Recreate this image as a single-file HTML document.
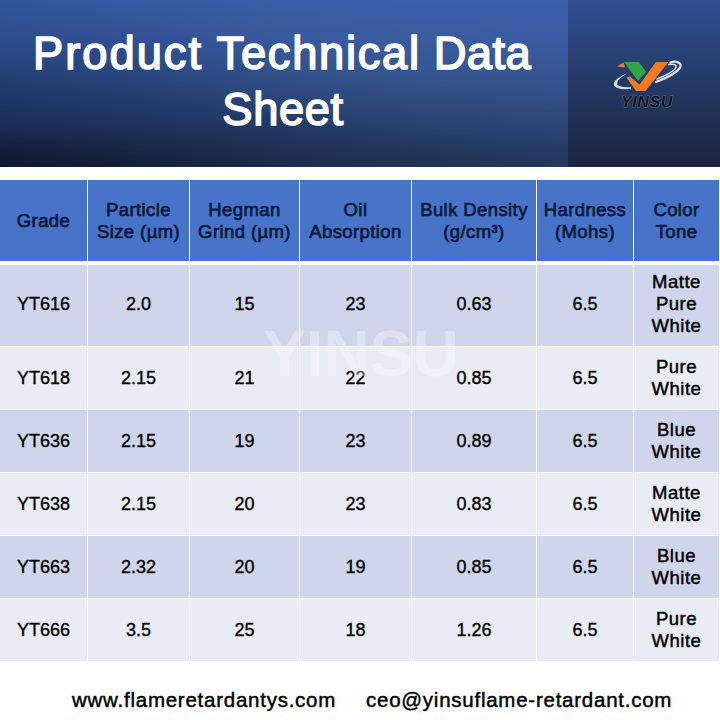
<!DOCTYPE html>
<html><head><meta charset="utf-8">
<style>
html,body{margin:0;padding:0;width:720px;height:720px;overflow:hidden;background:#fff;}
body{position:relative;font-family:"Liberation Sans",sans-serif;}
.abs{position:absolute;}
#bl{left:0;top:0;width:568px;height:167px;}
#bl i{position:absolute;top:0;height:167px;}
#rp{left:568px;top:0;width:152px;height:167px;background:linear-gradient(to bottom,#2E4F90 0px,#243A65 84px,#1A243E 167px);}
.title{left:0;width:566px;color:#fff;font-weight:normal;font-size:45.3px;-webkit-text-stroke:1.6px #fff;letter-spacing:1.7px;text-align:center;white-space:nowrap;line-height:56px;}
.c{position:absolute;display:flex;align-items:center;justify-content:center;text-align:center;}
.h{background:#4774C9;color:#0D1A3C;font-weight:normal;font-size:18.5px;line-height:22px;-webkit-text-stroke:0.7px #0D1A3C;letter-spacing:0.4px;}
.b1{background:#CFD5EA;}
.b2{background:#E9EBF5;}
.t{color:#000;font-size:18px;line-height:22px;-webkit-text-stroke:0.35px #000;}
.r1{box-sizing:border-box;padding-bottom:3px;}
.ct{font-size:18.5px;-webkit-text-stroke:0.45px #000;letter-spacing:0.5px;}
.foot{top:688px;color:#000;font-size:20.5px;letter-spacing:0.75px;-webkit-text-stroke:0.45px #000;white-space:nowrap;line-height:24px;}
.wm{left:263px;top:322px;color:rgba(255,255,255,0.32);font-weight:bold;font-size:64px;line-height:64px;white-space:nowrap;}
</style></head><body>
<div id="bl" class="abs"><i style="left:0px;width:8px;background:linear-gradient(#2F559B 0px,#2C4D8C 40px,#223F70 80px,#1C2D56 124px,#111B35 155px,#0F1830 167px)"></i><i style="left:8px;width:8px;background:linear-gradient(#30569B 0px,#2C4D8D 40px,#223F71 80px,#1C2D57 124px,#111C36 155px,#0F1931 167px)"></i><i style="left:16px;width:8px;background:linear-gradient(#30569C 0px,#2D4D8D 40px,#234072 80px,#1C2E57 124px,#111C36 155px,#0F1932 167px)"></i><i style="left:24px;width:8px;background:linear-gradient(#30569C 0px,#2D4D8D 40px,#234072 80px,#1D2E57 124px,#121D37 155px,#101A32 167px)"></i><i style="left:32px;width:8px;background:linear-gradient(#31579C 0px,#2D4E8E 40px,#234073 80px,#1D2E58 124px,#121D37 155px,#101A33 167px)"></i><i style="left:40px;width:8px;background:linear-gradient(#31579D 0px,#2E4E8E 40px,#244074 80px,#1D2F58 124px,#121E38 155px,#101B34 167px)"></i><i style="left:48px;width:8px;background:linear-gradient(#32589D 0px,#2E4E8F 40px,#244174 80px,#1D2F59 124px,#121E38 155px,#101B34 167px)"></i><i style="left:56px;width:8px;background:linear-gradient(#32589D 0px,#2E4E8F 40px,#244175 80px,#1D2F59 124px,#121F39 155px,#101C35 167px)"></i><i style="left:64px;width:8px;background:linear-gradient(#32589E 0px,#2F4E8F 40px,#254175 80px,#1E3059 124px,#131F39 155px,#111C35 167px)"></i><i style="left:72px;width:8px;background:linear-gradient(#33599E 0px,#2F4E90 40px,#254176 80px,#1E305A 124px,#13203A 155px,#111D36 167px)"></i><i style="left:80px;width:8px;background:linear-gradient(#33599E 0px,#2F4E90 40px,#254277 80px,#1E305A 124px,#13203A 155px,#111D37 167px)"></i><i style="left:88px;width:8px;background:linear-gradient(#33599F 0px,#304E90 40px,#264277 80px,#1E315A 124px,#13213B 155px,#111E37 167px)"></i><i style="left:96px;width:8px;background:linear-gradient(#345A9F 0px,#304F91 40px,#264278 80px,#1E315B 124px,#13213B 155px,#111E38 167px)"></i><i style="left:104px;width:8px;background:linear-gradient(#345A9F 0px,#304F91 40px,#264279 80px,#1F315B 124px,#14223C 155px,#121F39 167px)"></i><i style="left:112px;width:8px;background:linear-gradient(#355BA0 0px,#314F92 40px,#274379 80px,#1F325C 124px,#14223C 155px,#121F39 167px)"></i><i style="left:120px;width:8px;background:linear-gradient(#355BA0 0px,#314F92 40px,#27437A 80px,#1F325C 124px,#14233D 155px,#12203A 167px)"></i><i style="left:128px;width:8px;background:linear-gradient(#355BA0 0px,#315092 40px,#27447B 80px,#1F325C 124px,#15243E 155px,#12213B 167px)"></i><i style="left:136px;width:8px;background:linear-gradient(#365BA1 0px,#325093 40px,#28447B 80px,#20335D 124px,#15243F 155px,#13213C 167px)"></i><i style="left:144px;width:8px;background:linear-gradient(#365CA1 0px,#325193 40px,#28457C 80px,#20335E 124px,#162540 155px,#14223D 167px)"></i><i style="left:152px;width:8px;background:linear-gradient(#365CA1 0px,#325194 40px,#29457C 80px,#20345E 124px,#162541 155px,#14223D 167px)"></i><i style="left:160px;width:8px;background:linear-gradient(#365CA2 0px,#335294 40px,#29467D 80px,#20345E 124px,#172642 155px,#14233E 167px)"></i><i style="left:168px;width:8px;background:linear-gradient(#375CA2 0px,#335295 40px,#29477E 80px,#20345F 124px,#172643 155px,#15233F 167px)"></i><i style="left:176px;width:8px;background:linear-gradient(#375CA2 0px,#335395 40px,#2A477E 80px,#213560 124px,#182744 155px,#162440 167px)"></i><i style="left:184px;width:8px;background:linear-gradient(#375DA2 0px,#345396 40px,#2A487F 80px,#213560 124px,#182745 155px,#162441 167px)"></i><i style="left:192px;width:8px;background:linear-gradient(#385DA3 0px,#345496 40px,#2B487F 80px,#213660 124px,#192846 155px,#162542 167px)"></i><i style="left:200px;width:8px;background:linear-gradient(#385DA3 0px,#345496 40px,#2B4980 80px,#223661 124px,#1A2846 155px,#172642 167px)"></i><i style="left:208px;width:8px;background:linear-gradient(#385DA3 0px,#355597 40px,#2B4A81 80px,#223662 124px,#1A2947 155px,#182643 167px)"></i><i style="left:216px;width:8px;background:linear-gradient(#395DA4 0px,#355697 40px,#2C4A81 80px,#223762 124px,#1B2A48 155px,#182744 167px)"></i><i style="left:224px;width:8px;background:linear-gradient(#395EA4 0px,#365698 40px,#2C4B82 80px,#223762 124px,#1B2A49 155px,#182745 167px)"></i><i style="left:232px;width:8px;background:linear-gradient(#395EA4 0px,#365798 40px,#2D4B82 80px,#223863 124px,#1C2B4A 155px,#192846 167px)"></i><i style="left:240px;width:8px;background:linear-gradient(#3A5EA4 0px,#365799 40px,#2D4C83 80px,#233864 124px,#1C2B4B 155px,#1A2847 167px)"></i><i style="left:248px;width:8px;background:linear-gradient(#3A5EA5 0px,#375899 40px,#2D4D84 80px,#233864 124px,#1D2C4C 155px,#1A2948 167px)"></i><i style="left:256px;width:8px;background:linear-gradient(#3A5EA5 0px,#37589A 40px,#2E4D84 80px,#233964 124px,#1D2C4D 155px,#1A2948 167px)"></i><i style="left:264px;width:8px;background:linear-gradient(#3A5FA5 0px,#37599A 40px,#2E4E85 80px,#243965 124px,#1E2D4E 155px,#1B2A49 167px)"></i><i style="left:272px;width:8px;background:linear-gradient(#3B5FA6 0px,#38599B 40px,#2F4E85 80px,#243A66 124px,#1E2D4F 155px,#1C2A4A 167px)"></i><i style="left:280px;width:8px;background:linear-gradient(#3B5FA6 0px,#385A9B 40px,#2F4F86 80px,#243A66 124px,#1F2E50 155px,#1C2B4B 167px)"></i><i style="left:288px;width:8px;background:linear-gradient(#3B5FA6 0px,#385A9B 40px,#2F4F86 80px,#243B67 124px,#1F2E50 155px,#1C2B4C 167px)"></i><i style="left:296px;width:8px;background:linear-gradient(#3B5FA6 0px,#385A9B 40px,#2F5087 80px,#253B67 124px,#1F2F51 155px,#1C2C4C 167px)"></i><i style="left:304px;width:8px;background:linear-gradient(#3B5FA6 0px,#385A9C 40px,#305087 80px,#253C68 124px,#202F51 155px,#1D2C4D 167px)"></i><i style="left:312px;width:8px;background:linear-gradient(#3B5FA6 0px,#385A9C 40px,#305087 80px,#253C68 124px,#203052 155px,#1D2D4D 167px)"></i><i style="left:320px;width:8px;background:linear-gradient(#3B5FA7 0px,#395B9C 40px,#305088 80px,#253D69 124px,#203052 155px,#1D2D4E 167px)"></i><i style="left:328px;width:8px;background:linear-gradient(#3B5FA7 0px,#395B9C 40px,#305188 80px,#263D69 124px,#203053 155px,#1D2D4E 167px)"></i><i style="left:336px;width:8px;background:linear-gradient(#3B5FA7 0px,#395B9C 40px,#315188 80px,#263E6A 124px,#203153 155px,#1E2E4F 167px)"></i><i style="left:344px;width:8px;background:linear-gradient(#3B5FA7 0px,#395B9C 40px,#315189 80px,#263E6A 124px,#203154 155px,#1E2E4F 167px)"></i><i style="left:352px;width:8px;background:linear-gradient(#3B5FA7 0px,#395B9D 40px,#315289 80px,#273F6B 124px,#213254 155px,#1E2F50 167px)"></i><i style="left:360px;width:8px;background:linear-gradient(#3B5FA7 0px,#395B9D 40px,#315289 80px,#273F6B 124px,#213255 155px,#1E2F50 167px)"></i><i style="left:368px;width:8px;background:linear-gradient(#3B5FA7 0px,#395B9D 40px,#32528A 80px,#27406C 124px,#213255 155px,#1F2F51 167px)"></i><i style="left:376px;width:8px;background:linear-gradient(#3B5FA7 0px,#395B9D 40px,#32528A 80px,#27406C 124px,#213355 155px,#1F3051 167px)"></i><i style="left:384px;width:8px;background:linear-gradient(#3B5FA7 0px,#395B9D 40px,#32538A 80px,#28416D 124px,#213356 155px,#1F3052 167px)"></i><i style="left:392px;width:8px;background:linear-gradient(#3B5FA8 0px,#3A5C9D 40px,#32538B 80px,#28416D 124px,#213456 155px,#1F3152 167px)"></i><i style="left:400px;width:8px;background:linear-gradient(#3B5FA8 0px,#3A5C9E 40px,#32538B 80px,#28426E 124px,#223457 155px,#1F3153 167px)"></i><i style="left:408px;width:8px;background:linear-gradient(#3B5FA8 0px,#3A5C9E 40px,#33548B 80px,#29426E 124px,#223457 155px,#203153 167px)"></i><i style="left:416px;width:8px;background:linear-gradient(#3B5FA8 0px,#3A5C9E 40px,#33548C 80px,#29436F 124px,#223558 155px,#203254 167px)"></i><i style="left:424px;width:8px;background:linear-gradient(#3B5FA8 0px,#3A5C9E 40px,#33548C 80px,#29436F 124px,#223558 155px,#203254 167px)"></i><i style="left:432px;width:8px;background:linear-gradient(#3B5FA8 0px,#3A5C9E 40px,#33548C 80px,#294370 124px,#223559 155px,#203255 167px)"></i><i style="left:440px;width:8px;background:linear-gradient(#3B5FA8 0px,#3A5C9F 40px,#33548C 80px,#2A4370 124px,#223659 155px,#203355 167px)"></i><i style="left:448px;width:8px;background:linear-gradient(#3B5FA8 0px,#3A5C9F 40px,#33548D 80px,#2A4471 124px,#23365A 155px,#213356 167px)"></i><i style="left:456px;width:8px;background:linear-gradient(#3B5FA8 0px,#3A5C9F 40px,#33548D 80px,#2A4471 124px,#23365A 155px,#213356 167px)"></i><i style="left:464px;width:8px;background:linear-gradient(#3B5FA8 0px,#3A5C9F 40px,#33548D 80px,#2A4471 124px,#23375B 155px,#213457 167px)"></i><i style="left:472px;width:8px;background:linear-gradient(#3B5FA8 0px,#3A5C9F 40px,#33548D 80px,#2A4472 124px,#23375C 155px,#213457 167px)"></i><i style="left:480px;width:8px;background:linear-gradient(#3B5FA8 0px,#3A5CA0 40px,#33548D 80px,#2B4472 124px,#23375C 155px,#213458 167px)"></i><i style="left:488px;width:8px;background:linear-gradient(#3B5FA8 0px,#3A5CA0 40px,#33548D 80px,#2B4473 124px,#23375D 155px,#213458 167px)"></i><i style="left:496px;width:8px;background:linear-gradient(#3B5FA8 0px,#3A5BA0 40px,#34558E 80px,#2B4573 124px,#24385D 155px,#223559 167px)"></i><i style="left:504px;width:8px;background:linear-gradient(#3B5FA8 0px,#3A5BA0 40px,#34558E 80px,#2B4574 124px,#24385E 155px,#223559 167px)"></i><i style="left:512px;width:8px;background:linear-gradient(#3B5FA8 0px,#3A5BA1 40px,#34558E 80px,#2C4574 124px,#24385E 155px,#22355A 167px)"></i><i style="left:520px;width:8px;background:linear-gradient(#3B5FA8 0px,#3A5BA1 40px,#34558E 80px,#2C4575 124px,#24385F 155px,#22355A 167px)"></i><i style="left:528px;width:8px;background:linear-gradient(#3B5FA8 0px,#3A5BA1 40px,#34558E 80px,#2C4575 124px,#243960 155px,#22365B 167px)"></i><i style="left:536px;width:8px;background:linear-gradient(#3B5FA8 0px,#3A5BA1 40px,#34558E 80px,#2C4575 124px,#243960 155px,#22365B 167px)"></i><i style="left:544px;width:8px;background:linear-gradient(#3B5FA8 0px,#3A5BA1 40px,#34558F 80px,#2C4676 124px,#253961 155px,#23365C 167px)"></i><i style="left:552px;width:8px;background:linear-gradient(#3B5FA8 0px,#3A5BA2 40px,#34558F 80px,#2D4676 124px,#253A61 155px,#23375C 167px)"></i><i style="left:560px;width:8px;background:linear-gradient(#3B5FA8 0px,#3A5BA2 40px,#34558F 80px,#2D4677 124px,#253A62 155px,#23375D 167px)"></i></div>
<div id="rp" class="abs"></div>
<div class="abs title" style="top:25.5px;margin-left:-1px;"><span style="letter-spacing:2.0px">Product</span> Technical<span style="letter-spacing:0.4px"> Data</span></div>
<div class="abs title" style="top:82px;letter-spacing:0.6px;">Sheet</div>
<svg class="abs" style="left:600px;top:45px" width="100" height="70" viewBox="600 45 100 70">
<path d="M627,73.5 Q611.5,80 614.2,85.8 Q617.5,90.2 631,88.8 L631,87.2 Q620,87.8 617.2,84.6 Q615.8,80.2 627,73.5 Z" fill="#d8dce8"/>
<path d="M656,82 C668,78 682,70 680.5,64.5 C679.5,61.5 674,61 670.5,62.5" fill="none" stroke="#dfe3ee" stroke-width="2.3" stroke-linecap="round"/>
<path d="M657,79 C665,76 677,70 676,66 C675.5,64 672,64 668.5,64.5" fill="none" stroke="#dfe3ee" stroke-width="1.5" stroke-linecap="round"/>
<path d="M617,66.5 L623.5,62.5 L625,67.5 Z" fill="#ec7a34"/>
<path d="M624,62 L639,62 L646,72 L638,81 Z" fill="#33a24a"/>
<path d="M626.5,77.5 L630,76.5 L639.5,84.5 L656,62 L668.5,62 L645.5,91 L636,91 Z" fill="#f17a24"/>
<text x="621" y="106.5" font-family="Liberation Sans" font-style="italic" font-weight="bold" font-size="16" letter-spacing="0.6" fill="#101624" stroke="#5f697d" stroke-width="1.1" paint-order="stroke" style="text-rendering:geometricPrecision">YINSU</text>
</svg>
<div id="tbl">
<div class="c h" style="left:0px;top:180px;width:87px;height:81px">Grade</div>
<div class="c h" style="left:88px;top:180px;width:101px;height:81px">Particle<br>Size (µm)</div>
<div class="c h" style="left:190px;top:180px;width:109px;height:81px">Hegman<br>Grind (µm)</div>
<div class="c h" style="left:300px;top:180px;width:111px;height:81px">Oil<br>Absorption</div>
<div class="c h" style="left:412px;top:180px;width:124px;height:81px">Bulk Density<br>(g/cm³)</div>
<div class="c h" style="left:537px;top:180px;width:96px;height:81px">Hardness<br>(Mohs)</div>
<div class="c h" style="left:634px;top:180px;width:85px;height:81px">Color<br>Tone</div>
<div class="c t b1 r1" style="left:0px;top:265px;width:87px;height:81px">YT616</div>
<div class="c t b1 r1" style="left:88px;top:265px;width:101px;height:81px">2.0</div>
<div class="c t b1 r1" style="left:190px;top:265px;width:109px;height:81px">15</div>
<div class="c t b1 r1" style="left:300px;top:265px;width:111px;height:81px">23</div>
<div class="c t b1 r1" style="left:412px;top:265px;width:124px;height:81px">0.63</div>
<div class="c t b1 r1" style="left:537px;top:265px;width:96px;height:81px">6.5</div>
<div class="c t b1 ct r1" style="left:634px;top:265px;width:85px;height:81px">Matte<br>Pure<br>White</div>
<div class="c t b2" style="left:0px;top:347px;width:87px;height:62px">YT618</div>
<div class="c t b2" style="left:88px;top:347px;width:101px;height:62px">2.15</div>
<div class="c t b2" style="left:190px;top:347px;width:109px;height:62px">21</div>
<div class="c t b2" style="left:300px;top:347px;width:111px;height:62px">22</div>
<div class="c t b2" style="left:412px;top:347px;width:124px;height:62px">0.85</div>
<div class="c t b2" style="left:537px;top:347px;width:96px;height:62px">6.5</div>
<div class="c t b2 ct" style="left:634px;top:347px;width:85px;height:62px">Pure<br>White</div>
<div class="c t b1" style="left:0px;top:410px;width:87px;height:62px">YT636</div>
<div class="c t b1" style="left:88px;top:410px;width:101px;height:62px">2.15</div>
<div class="c t b1" style="left:190px;top:410px;width:109px;height:62px">19</div>
<div class="c t b1" style="left:300px;top:410px;width:111px;height:62px">23</div>
<div class="c t b1" style="left:412px;top:410px;width:124px;height:62px">0.89</div>
<div class="c t b1" style="left:537px;top:410px;width:96px;height:62px">6.5</div>
<div class="c t b1 ct" style="left:634px;top:410px;width:85px;height:62px">Blue<br>White</div>
<div class="c t b2" style="left:0px;top:473px;width:87px;height:62px">YT638</div>
<div class="c t b2" style="left:88px;top:473px;width:101px;height:62px">2.15</div>
<div class="c t b2" style="left:190px;top:473px;width:109px;height:62px">20</div>
<div class="c t b2" style="left:300px;top:473px;width:111px;height:62px">23</div>
<div class="c t b2" style="left:412px;top:473px;width:124px;height:62px">0.83</div>
<div class="c t b2" style="left:537px;top:473px;width:96px;height:62px">6.5</div>
<div class="c t b2 ct" style="left:634px;top:473px;width:85px;height:62px">Matte<br>White</div>
<div class="c t b1" style="left:0px;top:536px;width:87px;height:62px">YT663</div>
<div class="c t b1" style="left:88px;top:536px;width:101px;height:62px">2.32</div>
<div class="c t b1" style="left:190px;top:536px;width:109px;height:62px">20</div>
<div class="c t b1" style="left:300px;top:536px;width:111px;height:62px">19</div>
<div class="c t b1" style="left:412px;top:536px;width:124px;height:62px">0.85</div>
<div class="c t b1" style="left:537px;top:536px;width:96px;height:62px">6.5</div>
<div class="c t b1 ct" style="left:634px;top:536px;width:85px;height:62px">Blue<br>White</div>
<div class="c t b2" style="left:0px;top:599px;width:87px;height:62px">YT666</div>
<div class="c t b2" style="left:88px;top:599px;width:101px;height:62px">3.5</div>
<div class="c t b2" style="left:190px;top:599px;width:109px;height:62px">25</div>
<div class="c t b2" style="left:300px;top:599px;width:111px;height:62px">18</div>
<div class="c t b2" style="left:412px;top:599px;width:124px;height:62px">1.26</div>
<div class="c t b2" style="left:537px;top:599px;width:96px;height:62px">6.5</div>
<div class="c t b2 ct" style="left:634px;top:599px;width:85px;height:62px">Pure<br>White</div>
</div>
<div class="abs foot" style="left:72px;">www.flameretardantys.com</div>
<div class="abs foot" style="left:366px;">ceo@yinsuflame-retardant.com</div>
<div class="abs wm">YINSU</div>
</body></html>
